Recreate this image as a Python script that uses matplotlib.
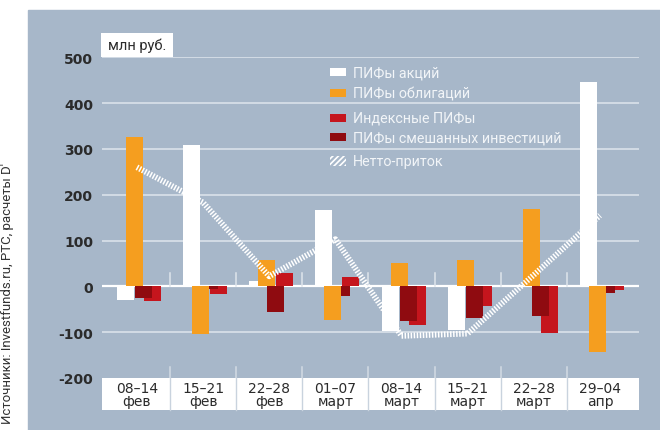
import matplotlib
matplotlib.use("Agg")
import matplotlib.pyplot as plt
from matplotlib.patches import Rectangle
import numpy as np

# ---- data ----
cat_top = ["08–14", "15–21", "22–28", "01–07", "08–14", "15–21", "22–28", "29–04"]
cat_bottom = ["фев", "фев", "фев", "март", "март", "март", "март", "апр"]
stocks = [-29, 308, 11, 167, -97, -95, 0, 446]        # ПИФы акций
bonds = [326, -105, 57, -73, 51, 57, 169, -143]       # ПИФы облигаций
index_f = [-33, -17, 29, 20, -84, -42, -102, -8]      # Индексные ПИФы
mixed = [-25, -6, -55, -20, -75, -68, -64, -15]       # ПИФы смешанных инвестиций
net = [260, 183, 22, 103, -108, -103, 25, 155]        # Нетто-приток
yticks = [500, 400, 300, 200, 100, 0, -100, -200]
ytick_labels = ["500", "400", "300", "200", "100", "0", "-100", "-200"]

# ---- style ----
plt.rcParams["hatch.color"] = "white"
plt.rcParams["hatch.linewidth"] = 1.2
PANEL = "#a7b7c9"
GRID = "#d6dee7"
C_WHITE = "#ffffff"
C_ORANGE = "#f59e1f"
C_RED = "#c5151d"
C_DRED = "#8f0b10"
TXT = "#2b2b2b"
LEGFONT = ["Roboto", "DejaVu Sans"]

fig = plt.figure(figsize=(6.6, 4.31), dpi=100)
fig.patch.set_facecolor("white")
fig.add_artist(Rectangle((28 / 660, 0), 1 - 28 / 660, (431 - 11) / 431,
                         transform=fig.transFigure, color=PANEL, zorder=-10))

ax = fig.add_axes([102 / 660, 1 - 379 / 431, (639 - 102) / 660, (379 - 58.3) / 431])
ax.set_facecolor("none")
for s in ax.spines.values():
    s.set_visible(False)

n = len(cat_top)
x = np.arange(n)
ax.set_xlim(-0.028, 8.09)
ax.set_ylim(-200, 500)

# gridlines
for v in yticks:
    if v in (0, -200):
        continue
    ax.axhline(v, color=GRID, lw=1.3, zorder=0.5)
ax.axhline(0, color="white", lw=1.6, zorder=0.6)

# small separator ticks
for b in range(1, n):
    ax.plot([b, b], [0, 30], color="#dfe5ec", lw=1.1, zorder=0.6)
    ax.plot([b, b], [-200, -176], color="#d3dbe4", lw=1.1, zorder=0.6)

# bars
w = 0.257
ax.bar(x + 0.327, stocks, width=w, color=C_WHITE, zorder=2)
ax.bar(x + 0.735, index_f, width=w, color=C_RED, zorder=2)
ax.bar(x + 0.599, mixed, width=w, color=C_DRED, zorder=3)
ax.bar(x + 0.463, bonds, width=w, color=C_ORANGE, zorder=4)

# net line (hatched look)
ax.plot(x + 0.5, net, color="white", lw=4.2, dashes=(0.26, 0.26),
        dash_capstyle="butt", solid_joinstyle="miter", zorder=6)

# category label box
ax.add_patch(Rectangle((-0.028, -270), 8.09 + 0.028, 70, facecolor="white",
                       edgecolor="none", clip_on=False, zorder=1))
for b in range(1, n):
    ax.plot([b, b], [-270, -200], color="#c9d3de", lw=1.0, clip_on=False, zorder=1.5)
for i in range(n):
    ax.text(i + 0.5, -236, cat_top[i] + "\n" + cat_bottom[i], ha="center", va="center",
            fontsize=10, color=TXT, linespacing=0.95, clip_on=False)

# y tick labels
ax.set_xticks([])
ax.set_yticks(yticks)
ax.set_yticklabels(ytick_labels, fontsize=10, fontweight="bold", color=TXT)
ax.tick_params(axis="y", length=0, pad=6.5)

# unit box
ax.add_patch(Rectangle((-0.043, 500.5), 1.088, 52.5, facecolor="white",
                       edgecolor="none", clip_on=False, zorder=1))
ax.text(0.5, 527, "млн руб.", ha="center", va="center", fontsize=10.5,
        color=TXT, clip_on=False, family=LEGFONT)

# legend
lx, lw_, tx = 3.419, 0.242, 3.766
leg = [("ПИФы акций", C_WHITE, 467.5), ("ПИФы облигаций", C_ORANGE, 422),
       ("Индексные ПИФы", C_RED, 367.7), ("ПИФы смешанных инвестиций", C_DRED, 325.5)]
for lab, col, yy in leg:
    ax.add_patch(Rectangle((lx, yy - 8.7), lw_, 17.4, facecolor=col, edgecolor="none", zorder=5))
    ax.text(tx, yy, lab, ha="left", va="center", fontsize=10.3, color="#f2f5f8",
            zorder=5, family=LEGFONT)
ax.add_patch(Rectangle((lx, 272.7 - 11), lw_, 22, facecolor="none", edgecolor="white",
                       hatch="//////", lw=0, zorder=5))
ax.text(tx, 272.7, "Нетто-приток", ha="left", va="center", fontsize=10.3,
        color="#f2f5f8", zorder=5, family=LEGFONT)

# source text
fig.text(8 / 660, 1 - 163 / 431, "Источники: Investfunds.ru, РТС, расчеты D'",
         rotation=90, ha="right", va="center", rotation_mode="anchor",
         fontsize=9.5, color="#333333", family=LEGFONT)

fig.savefig("out.png", dpi=100, facecolor="white")
